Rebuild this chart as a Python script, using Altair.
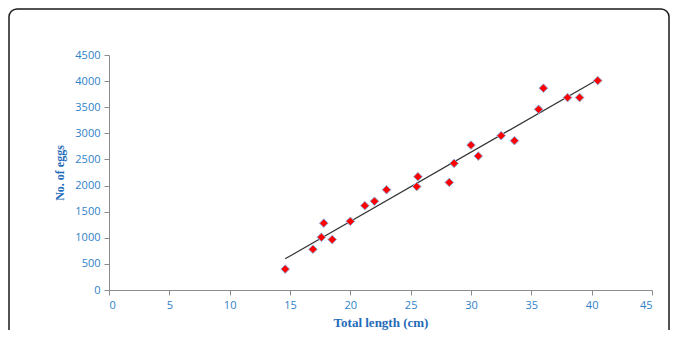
import altair as alt
import pandas as pd

length_cm = [14.6, 16.9, 17.6, 17.8, 18.5, 20.0, 21.2, 22.0, 23.0, 25.6, 25.5,
             28.2, 28.6, 30.0, 30.6, 32.5, 33.6, 35.6, 36.0, 38.0, 39.0, 40.5]
eggs = [400, 780, 1010, 1280, 965, 1315, 1615, 1700, 1920, 2170, 1980,
        2060, 2425, 2775, 2565, 2955, 2860, 3460, 3865, 3685, 3685, 4010]

df = pd.DataFrame({"length": length_cm, "eggs": eggs})

label_color = "#2F7FC8"
title_color = "#1F6BB8"
axis_grey = "#8C8C8C"

xenc = alt.X("length:Q",
             scale=alt.Scale(domain=[0, 45], nice=False, zero=True),
             axis=alt.Axis(values=list(range(0, 46, 5)), title="Total  length (cm)",
                           format="d",
                           grid=False, domainColor=axis_grey, tickColor=axis_grey,
                           tickSize=5, labelColor=label_color, labelFont="Open Sans",
                           labelFontSize=11, labelPadding=4,
                           titleFont="Liberation Serif", titleFontSize=13,
                           titleFontWeight="bold", titleColor=title_color,
                           titlePadding=6))
yenc = alt.Y("eggs:Q",
             scale=alt.Scale(domain=[0, 4500], nice=False),
             axis=alt.Axis(values=list(range(0, 4501, 500)), title="No. of eggs",
                           format="d",
                           grid=False, domainColor=axis_grey, tickColor=axis_grey,
                           tickSize=5, labelColor=label_color, labelFont="Open Sans",
                           labelFontSize=11, labelPadding=4,
                           titleFont="Liberation Serif", titleFontSize=12,
                           titleFontWeight="bold", titleColor=title_color,
                           titlePadding=8))

base = alt.Chart(df)

trend = base.transform_regression("length", "eggs").mark_line(
    color="#333333", strokeWidth=1.2
).encode(x=xenc, y=yenc)

points = base.mark_point(
    shape="diamond", filled=True, fill="#FF0000", stroke="#8FB4E3",
    strokeWidth=1, size=75, opacity=1
).encode(x=xenc, y=yenc)

frame = alt.Chart(alt.Data(values=[{}])).mark_rect(
    fill=None, stroke="#1A1A1A", strokeWidth=1.5, cornerRadius=8
).encode(x=alt.value(-100), x2=alt.value(560), y=alt.value(-46), y2=alt.value(600))

chart = alt.layer(frame, trend, points).properties(
    width=543, height=235,
    autosize=alt.AutoSizeParams(type="none"),
    padding={"left": 101, "top": 47, "right": 18, "bottom": 40},
).configure_view(stroke=None)

chart.save("out.html", embed_options={"renderer": "svg", "actions": False})
